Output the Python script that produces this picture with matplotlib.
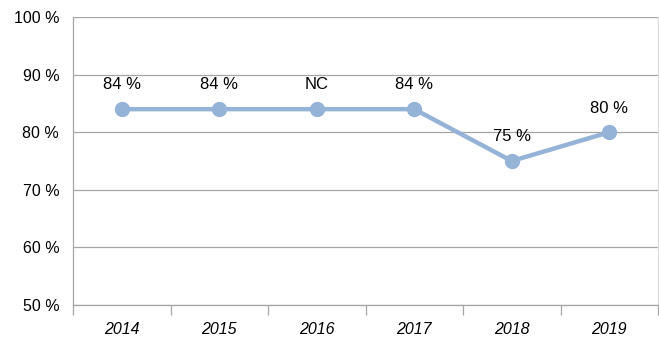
import matplotlib
matplotlib.use('Agg')
import matplotlib.pyplot as plt
import numpy as np

years = ['2014', '2015', '2016', '2017', '2018', '2019']
rates = [84, 84, 84, 84, 75, 80]
point_labels = ['84 %', '84 %', 'NC', '84 %', '75 %', '80 %']
y_ticks = [50, 60, 70, 80, 90, 100]

FONT = ['Liberation Sans', 'DejaVu Sans']
LINE = '#95b3d7'
GRID = '#a6a6a6'

fig = plt.figure(figsize=(6.59, 3.38), dpi=100)
ax = fig.add_axes([0.1108, 0.0976, 0.8877, 0.8521])

x = np.arange(len(years))
ax.plot(x, rates, color=LINE, lw=3.2, marker='o', ms=10, zorder=3,
        solid_capstyle='round')
for xi, yi, lab in zip(x, rates, point_labels):
    ax.annotate(lab, (xi, yi), xytext=(0, 12), textcoords='offset points',
                ha='center', va='bottom', fontsize=12, family=FONT,
                color='#000000')

ax.set_xlim(-0.5, len(years) - 0.5)
ax.set_ylim(50, 100)
ax.set_yticks(y_ticks)
ax.set_yticklabels([f'{v} %' for v in y_ticks], family=FONT, fontsize=11.5)
ax.tick_params(axis='y', length=0, pad=10)
for v in y_ticks:
    ax.axhline(v, color=GRID, lw=0.9, zorder=1)

# category labels centred, ticks drawn at the boundaries
ax.set_xticks(np.arange(len(years) + 1) - 0.5)
ax.set_xticklabels([])
ax.tick_params(axis='x', length=7.5, color=GRID, width=0.9)
ax.set_xticks(x, minor=True)
ax.set_xticklabels(years, minor=True, family=FONT, fontsize=11.5,
                   style='italic')
ax.tick_params(axis='x', which='minor', length=0, pad=12)

ax.spines['top'].set_visible(False)
ax.spines['left'].set_color(GRID)
ax.spines['bottom'].set_color(GRID)
ax.spines['right'].set_color('#d9d9d9')
for s in ax.spines.values():
    s.set_linewidth(0.9)

fig.savefig('out.png', dpi=100)
